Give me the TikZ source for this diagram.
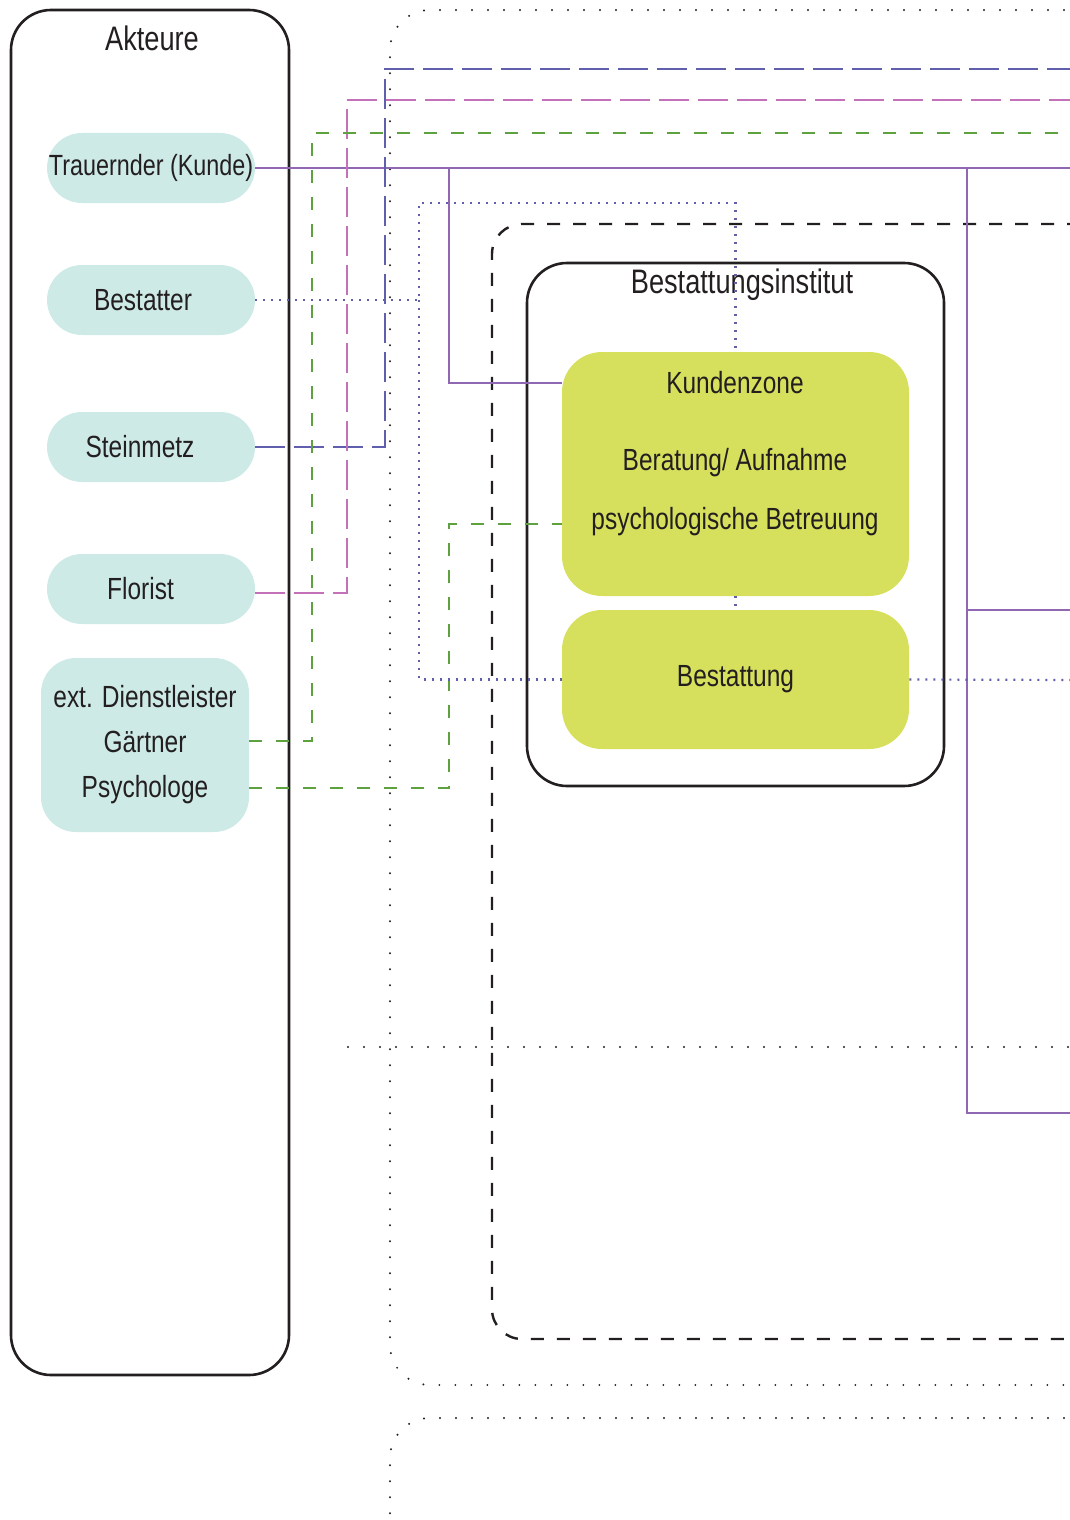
\documentclass[tikz,border=0pt]{standalone}
\usepackage{fontspec}
\setmainfont{Liberation Sans}[FakeStretch=0.8]
\usetikzlibrary{positioning}

\definecolor{akteurfill}{HTML}{CDEAE6}
\definecolor{zonefill}{HTML}{D6E05C}
\definecolor{lila}{HTML}{8F67B3}
\definecolor{blau}{HTML}{5F5FAD}
\definecolor{rosa}{HTML}{C371B8}
\definecolor{gruen}{HTML}{5DA23E}
\definecolor{schrift}{HTML}{231F20}

\tikzset{
  rahmen/.style={draw=schrift, line width=1.3pt, rounded corners=20pt},
  titel/.style={font=\fontsize{17}{20}\selectfont},
  akteur/.style={fill=akteurfill, rounded corners=17.5pt, minimum width=104pt, minimum height=35pt, inner sep=0pt},
  zone/.style={fill=zonefill, rounded corners=20pt, minimum width=173.5pt, inner sep=0pt},
  punkte/.style={draw=schrift, line width=1.1pt, line cap=round, dash pattern=on 0pt off 8pt},
  striche/.style={draw=schrift, line width=1.2pt, dash pattern=on 6.5pt off 6.5pt, rounded corners=15pt},
  kunde/.style={draw=lila, line width=1.1pt},
  stein/.style={draw=blau, line width=1.2pt, dash pattern=on 15pt off 4.5pt},
  blume/.style={draw=rosa, line width=1.2pt, dash pattern=on 15pt off 4.5pt},
  dienst/.style={draw=gruen, line width=1.2pt, dash pattern=on 6.5pt off 7pt},
  fein/.style={draw=blau, line width=1.1pt, dash pattern=on 1pt off 3pt}
}

\begin{document}
\begin{tikzpicture}[x=0.5pt, y=-0.5pt, font=\fontsize{15.3}{18}\selectfont, text=schrift]
  \useasboundingbox (0,0) rectangle (1070,1520);
  \clip (0,0) rectangle (1070,1520);

  % Bereiche
  \draw[punkte, rounded corners=20pt] (1080,10) -| (390,1385) -- (1080,1385);
  \draw[punkte, rounded corners=20pt] (1080,1418) -| (390,1580) -- (1080,1580);
  \draw[punkte] (348,1047) -- (1080,1047);
  \draw[striche] (1080,224) -| (492,1339) -- (1080,1339);

  % Akteure
  \node (akteure) [rahmen, minimum width=139pt, minimum height=682.5pt] at (150,692.5) {};
  \node (akteureTitel) [titel] at (152,38) {Akteure};
  \node (trauernder) [akteur, font=\fontsize{14.6}{18}\selectfont] at (151,168) {Trauernder (Kunde)};
  \node (bestatter) [akteur] at (151,300) {\hspace*{-8pt}Bestatter};
  \node (steinmetz) [akteur] at (151,447) {\hspace*{-11pt}Steinmetz};
  \node (florist) [akteur] at (151,589) {\hspace*{-10.5pt}Florist};
  \node (ext) [akteur, minimum height=87pt, align=center, font=\fontsize{15.3}{22.5}\selectfont] at (145,745)
        {ext. Dienstleister\\Gärtner\\Psychologe};

  % Institut
  \node (institut) [rahmen, minimum width=208.5pt, minimum height=261.5pt] at (735.5,524.5) {};
  \node (institutTitel) [titel] at (742,285) {Bestattungsinstitut};
  \node (kzone) [zone, minimum height=122pt] at (735.5,474) {};
  \node (kzoneTitel) at (735,383) {Kundenzone};
  \node (beratung) at (735,463) {Beratung/ Aufnahme};
  \node (betreuung) at (735,522) {psychologische Betreuung};
  \node (bestattung) [zone, minimum height=69.5pt] at (735.5,679.5) {Bestattung};

  % Verbindungen
  \coordinate (k1) at (449,168);
  \coordinate (k2) at (967,168);
  \coordinate (k3) at (967,610);
  \coordinate (kRand1) at (1080,168);
  \coordinate (kRand2) at (1080,610);
  \coordinate (kRand3) at (1080,1113);
  \draw[kunde] (trauernder.east) -- (kRand1);
  \draw[kunde] (k1) |- ([yshift=45.5pt]kzone.west);
  \draw[kunde] (k2) |- (kRand3);
  \draw[kunde] (k3) -- (kRand2);

  \coordinate (s1) at (385,69);
  \coordinate (sRand) at (1080,69);
  \draw[stein] (steinmetz.east) -| (s1) -- (sRand);

  \coordinate (f1) at (347,100);
  \coordinate (fRand) at (1080,100);
  \draw[blume] ([yshift=-2pt]florist.east) -| (f1) -- (fRand);

  \coordinate (g1) at (312,133);
  \coordinate (gRand) at (1080,133);
  \coordinate (g2) at (449,524);
  \draw[dienst] ([yshift=2pt]ext.east) -| (g1) -- (gRand);
  \draw[dienst] ([yshift=-21.5pt]ext.east) -| (g2) -- ([yshift=-25pt]kzone.west);

  \coordinate (b1) at (419,203);
  \coordinate (b2) at (419,300);
  \coordinate (bRand) at (1080,680);
  \draw[fein] (bestatter.east) -| (b1) -| (kzone.north);
  \draw[fein] (b2) |- (bestattung.west);
  \draw[fein] (bestattung.east) -- (bRand);
  \draw[fein] (kzone.south) -- (bestattung.north);
\end{tikzpicture}
\end{document}
